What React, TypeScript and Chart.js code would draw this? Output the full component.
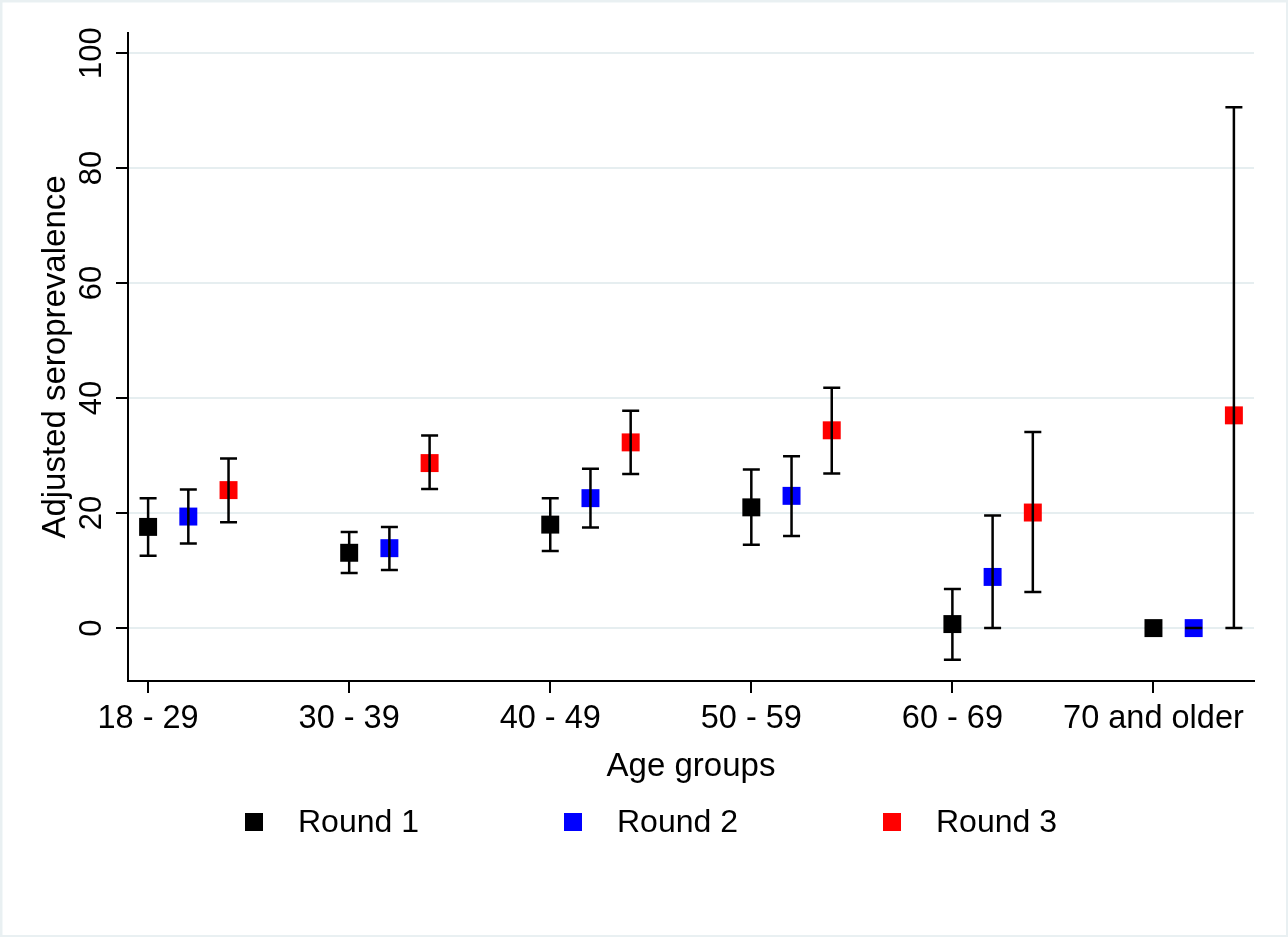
import { useEffect, useRef } from "react"
import { Chart, registerables } from "chart.js"

Chart.register(...registerables)

const FONT = '"Liberation Sans", Arial, sans-serif'

const ageGroups = ["18 - 29", "30 - 39", "40 - 49", "50 - 59", "60 - 69", "70 and older"]
const roundLabels = ["Round 1", "Round 2", "Round 3"]
const roundColors = ["#000000", "#0000ff", "#ff0000"]
const roundOffsets = [0, 0.2, 0.4]

const round1 = [17.6, 13.1, 18.0, 21.0, 0.7, 0]
const round1Lo = [12.6, 9.6, 13.4, 14.5, -5.5, 0]
const round1Hi = [22.6, 16.7, 22.6, 27.6, 6.8, 0]

const round2 = [19.4, 13.9, 22.6, 23.0, 8.9, 0]
const round2Lo = [14.7, 10.1, 17.5, 16.0, 0, 0]
const round2Hi = [24.1, 17.6, 27.7, 29.9, 19.6, 0]

const round3 = [24.0, 28.7, 32.3, 34.4, 20.1, 37.0]
const round3Lo = [18.4, 24.2, 26.8, 26.9, 6.3, 0]
const round3Hi = [29.5, 33.5, 37.8, 41.8, 34.1, 90.6]

const yTicks = [0, 20, 40, 60, 80, 100]

const series = [
  { values: round1, lo: round1Lo, hi: round1Hi },
  { values: round2, lo: round2Lo, hi: round2Hi },
  { values: round3, lo: round3Lo, hi: round3Hi },
]

// light frame round the whole graph, white inside
const frame = {
  id: "frame",
  beforeDraw(chart: any) {
    const { ctx, width, height } = chart
    ctx.save()
    ctx.fillStyle = "#e9f0f2"
    ctx.fillRect(0, 0, width, height)
    ctx.fillStyle = "#ffffff"
    ctx.fillRect(2.5, 2.5, width - 4.5, height - 4.5)
    ctx.restore()
  },
}

// capped confidence intervals
const errorBars = {
  id: "errorBars",
  afterDatasetsDraw(chart: any) {
    const { ctx } = chart
    const x = chart.scales.x
    const y = chart.scales.y
    ctx.save()
    ctx.strokeStyle = "#000000"
    ctx.lineWidth = 2.5
    chart.data.datasets.forEach((ds: any) => {
      ds.data.forEach((p: any, i: number) => {
        const px = x.getPixelForValue(p.x)
        const yLo = y.getPixelForValue(ds.lo[i])
        const yHi = y.getPixelForValue(ds.hi[i])
        ctx.beginPath()
        ctx.moveTo(px, yLo)
        ctx.lineTo(px, yHi)
        ctx.moveTo(px - 8.5, yLo)
        ctx.lineTo(px + 8.5, yLo)
        ctx.moveTo(px - 8.5, yHi)
        ctx.lineTo(px + 8.5, yHi)
        ctx.stroke()
      })
    })
    ctx.restore()
  },
}

// rotated y tick labels and the bottom legend
const labels = {
  id: "labels",
  afterDraw(chart: any) {
    const { ctx } = chart
    const y = chart.scales.y
    ctx.save()
    ctx.fillStyle = "#000000"
    ctx.font = `31px ${FONT}`
    ctx.textAlign = "center"
    ctx.textBaseline = "alphabetic"
    yTicks.forEach((v) => {
      ctx.save()
      ctx.translate(101, y.getPixelForValue(v))
      ctx.rotate(-Math.PI / 2)
      ctx.fillText(String(v), 0, 0)
      ctx.restore()
    })

    ctx.font = `32px ${FONT}`
    ctx.textAlign = "left"
    ctx.textBaseline = "middle"
    chart.data.datasets.forEach((ds: any, k: number) => {
      const cx = 254 + k * 319
      ctx.fillStyle = ds.backgroundColor
      ctx.fillRect(cx - 9, 813, 18, 18)
      ctx.fillStyle = "#000000"
      ctx.fillText(ds.label, cx + 44, 823)
    })
    ctx.restore()
  },
}

export default function App() {
  const chartRef = useRef<HTMLCanvasElement>(null)
  const chartInstance = useRef<Chart | null>(null)

  useEffect(() => {
    document.body.style.margin = "0"
    if (!chartRef.current) return
    if (chartInstance.current) chartInstance.current.destroy()

    const datasets = series.map((s, k) => ({
      label: roundLabels[k],
      data: s.values.map((v, i) => ({ x: i + 1 + roundOffsets[k], y: v })),
      lo: s.lo,
      hi: s.hi,
      backgroundColor: roundColors[k],
      borderWidth: 0,
      pointStyle: "rect",
      pointRadius: 12.7,
      pointHoverRadius: 12.7,
    }))

    chartInstance.current = new Chart(chartRef.current, {
      type: "scatter",
      data: { datasets } as any,
      options: {
        animation: false,
        responsive: true,
        maintainAspectRatio: false,
        layout: { padding: { top: 33, right: 34, left: 0, bottom: 0 } },
        plugins: {
          legend: { display: false },
          tooltip: { enabled: false },
        },
        scales: {
          x: {
            type: "linear",
            min: 0.9,
            max: 6.5,
            afterBuildTicks: (scale: any) => {
              scale.ticks = ageGroups.map((_, i) => ({ value: i + 1 }))
            },
            afterFit: (scale: any) => {
              scale.height = 256
            },
            ticks: {
              autoSkip: false,
              maxRotation: 0,
              minRotation: 0,
              padding: 7,
              color: "#000000",
              font: { family: FONT, size: 32.5 },
              callback: (v: any) => ageGroups[Math.round(Number(v)) - 1],
            },
            grid: {
              drawOnChartArea: false,
              drawTicks: true,
              tickLength: 12,
              tickColor: "#000000",
              lineWidth: 2,
            },
            border: { display: true, color: "#000000", width: 2 },
            title: {
              display: true,
              text: "Age groups",
              color: "#000000",
              font: { family: FONT, size: 33 },
              padding: { top: 0, bottom: 150 },
            },
          },
          y: {
            type: "linear",
            min: -9.2,
            max: 103.5,
            afterBuildTicks: (scale: any) => {
              scale.ticks = yTicks.map((v) => ({ value: v }))
            },
            afterFit: (scale: any) => {
              scale.width = 128
            },
            ticks: { display: false },
            grid: {
              color: "#e6eef0",
              lineWidth: 2,
              drawTicks: true,
              tickLength: 12,
              tickColor: "#000000",
            },
            border: { display: true, color: "#000000", width: 2 },
            title: {
              display: true,
              text: "Adjusted seroprevalence",
              color: "#000000",
              font: { family: FONT, size: 33 },
              padding: { top: 36, bottom: 0 },
            },
          },
        },
      } as any,
      plugins: [frame, errorBars, labels],
    })

    return () => {
      if (chartInstance.current) {
        chartInstance.current.destroy()
        chartInstance.current = null
      }
    }
  }, [])

  return (
    <div style={{ position: "relative", width: 1288, height: 937 }}>
      <canvas ref={chartRef} />
    </div>
  )
}
